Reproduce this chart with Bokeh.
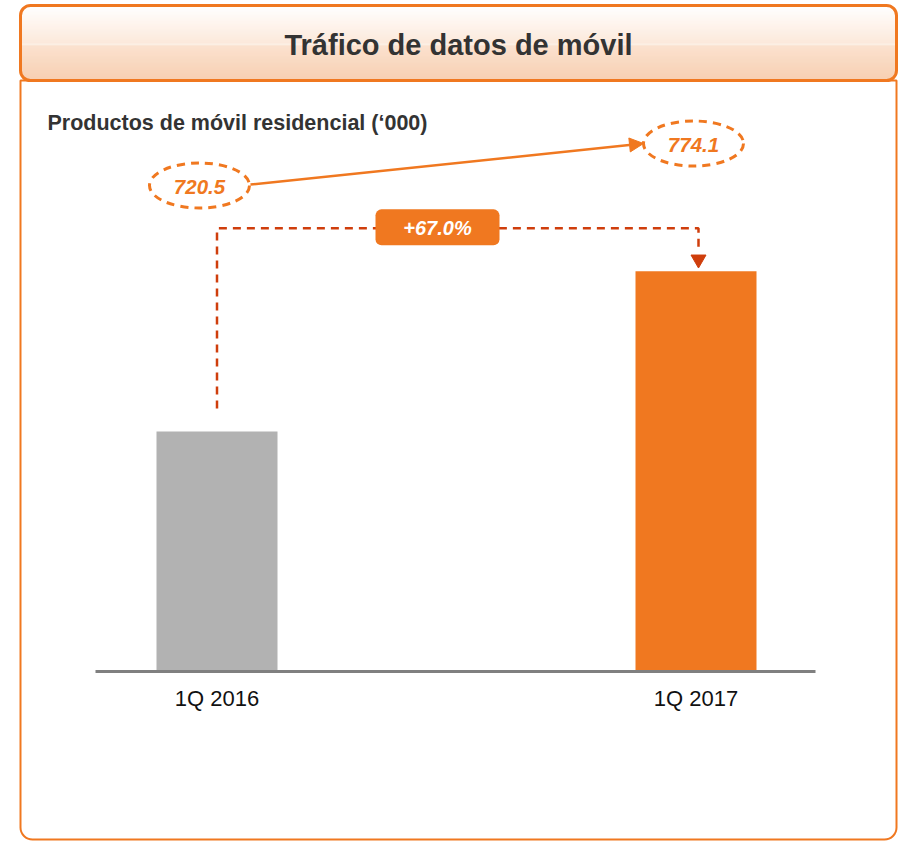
import numpy as np
from bokeh.plotting import figure
from bokeh.models import Range1d, Arrow, NormalHead
from bokeh.core.properties import value
from bokeh.embed import file_html
from bokeh.resources import INLINE

# ---------------- data ----------------
categories = ["1Q 2016", "1Q 2017"]
traffic_index = [100, 167]          # relative mobile data traffic (1Q 2016 = 100)
products = [720.5, 774.1]           # residential mobile products ('000)
growth_label = "+67.0%"
title_text = "Tráfico de datos de móvil"
subtitle_text = "Productos de móvil residencial (‘000)"

# ---------------- style ----------------
ORANGE = "#F07820"
GREY = "#B2B2B2"
CONNECT = "#CF3E0C"
FONT = value("Liberation Sans")
bar_colors = [GREY, ORANGE]

W, H = 900, 842
p = figure(width=W, height=H, output_backend="svg", toolbar_location=None,
           x_range=Range1d(0, W), y_range=Range1d(-H, 0),
           x_axis_location=None, y_axis_location=None, min_border=0)
p.grid.visible = False
p.outline_line_color = None
p.background_fill_color = "white"
p.border_fill_color = "white"

def Y(py):
    return -py

# value axis (hidden) mapped so that 0 sits on the baseline
BASE = 670.0
K = 2.39   # pixels per index unit
p.extra_y_ranges = {"val": Range1d(start=-(H - BASE) / K, end=BASE / K)}

# ---------------- frame / header ----------------
L, R, T, HB, B = 20, 896, 5, 80, 839
r = 10

def hexmix(c1, c2, t):
    a = [int(c1[i:i + 2], 16) for i in (1, 3, 5)]
    b = [int(c2[i:i + 2], 16) for i in (1, 3, 5)]
    return "#%02x%02x%02x" % tuple(int(round(a[j] + (b[j] - a[j]) * t)) for j in range(3))

lefts, rights, tops, bots, cols = [], [], [], [], []
for y in range(T + 1, HB):
    yc = y + 0.5
    inset = 0.0
    if yc < T + r:
        dy = (T + r) - yc
        inset = r - np.sqrt(max(r * r - dy * dy, 0))
    elif yc > HB - r:
        dy = yc - (HB - r)
        inset = r - np.sqrt(max(r * r - dy * dy, 0))
    if y < 43:
        c = hexmix("#FFFFFF", "#FBE1CE", (y - T) / (43 - T))
    elif y < 45:
        c = "#FCE9DB"
    else:
        c = hexmix("#FAD8BF", "#F5BF97", (y - 45) / (HB - 45))
    lefts.append(L + inset); rights.append(R - inset)
    tops.append(Y(y)); bots.append(Y(y + 1)); cols.append(c)
p.quad(left=lefts, right=rights, top=tops, bottom=bots, fill_color=cols, line_color=None)

# body box
p.quad(left=[L], right=[R], top=[Y(HB)], bottom=[Y(B)], fill_color=None,
       line_color=ORANGE, line_width=2, border_radius=(0, 0, 12, 12))
# header box
p.quad(left=[L], right=[R], top=[Y(T)], bottom=[Y(HB)], fill_color=None,
       line_color=ORANGE, line_width=3, border_radius=r)

# title & subtitle
p.text(x=[458], y=[Y(44)], text=[title_text], text_font=FONT, text_font_style="bold",
       text_font_size="29px", text_color="#333333", text_align="center", text_baseline="middle")
p.text(x=[47], y=[Y(122)], text=[subtitle_text], text_font=FONT, text_font_style="bold",
       text_font_size="21.5px", text_color="#333333", text_align="left", text_baseline="middle")

# ---------------- bars ----------------
X0, STEP, BW = 216.5, 479.0, 121
xs = [X0 + i * STEP for i in range(len(categories))]
p.vbar(x=xs, top=traffic_index, bottom=0, width=BW, fill_color=bar_colors,
       line_color=None, y_range_name="val")

# baseline
p.line(x=[95, 815], y=[Y(BASE + 1), Y(BASE + 1)], line_color="#808080", line_width=3)

# category labels
p.text(x=xs, y=[Y(698)] * len(xs), text=categories, text_font=FONT, text_font_size="22px",
       text_color="#111111", text_align="center", text_baseline="middle")

# ---------------- growth connector ----------------
tops_px = [BASE - v * K for v in traffic_index]
level = min(tops_px) - 43
cx1 = xs[0]
cx2 = xs[1] + 2.5
p.line(x=[cx1, cx1, cx2, cx2], y=[Y(tops_px[0] - 23), Y(level), Y(level), Y(tops_px[1] - 20)],
       line_color=CONNECT, line_width=2.5, line_dash="8 6")
p.scatter(x=[cx2], y=[Y(tops_px[1] - 12)], marker="inverted_triangle", size=15,
          fill_color=CONNECT, line_color=CONNECT)

# growth label box
gx = 437
p.quad(left=[gx - 62], right=[gx + 62], top=[Y(level - 19)], bottom=[Y(level + 17)],
       fill_color=ORANGE, line_color=None, border_radius=6)
p.text(x=[gx], y=[Y(level)], text=[growth_label], text_font=FONT, text_font_style="bold italic",
       text_font_size="20px", text_color="white", text_align="center", text_baseline="middle")

# ---------------- product ellipses ----------------
ex = [199, 693]
ey = [Y(185), Y(143)]
p.ellipse(x=ex, y=ey, width=100, height=45, fill_color=None, line_color=ORANGE,
          line_width=3, line_dash="8 6")
p.text(x=ex, y=[e - 1 for e in ey], text=[f"{v:.1f}" for v in products], text_font=FONT,
       text_font_style="bold italic", text_font_size="20.5px", text_color=ORANGE,
       text_align="center", text_baseline="middle")

p.add_layout(Arrow(end=NormalHead(size=14, fill_color=ORANGE, line_color=ORANGE),
                   x_start=250, y_start=Y(184), x_end=643, y_end=Y(143),
                   line_color=ORANGE, line_width=2.5))

open("out.html", "w").write(file_html(p, INLINE))
